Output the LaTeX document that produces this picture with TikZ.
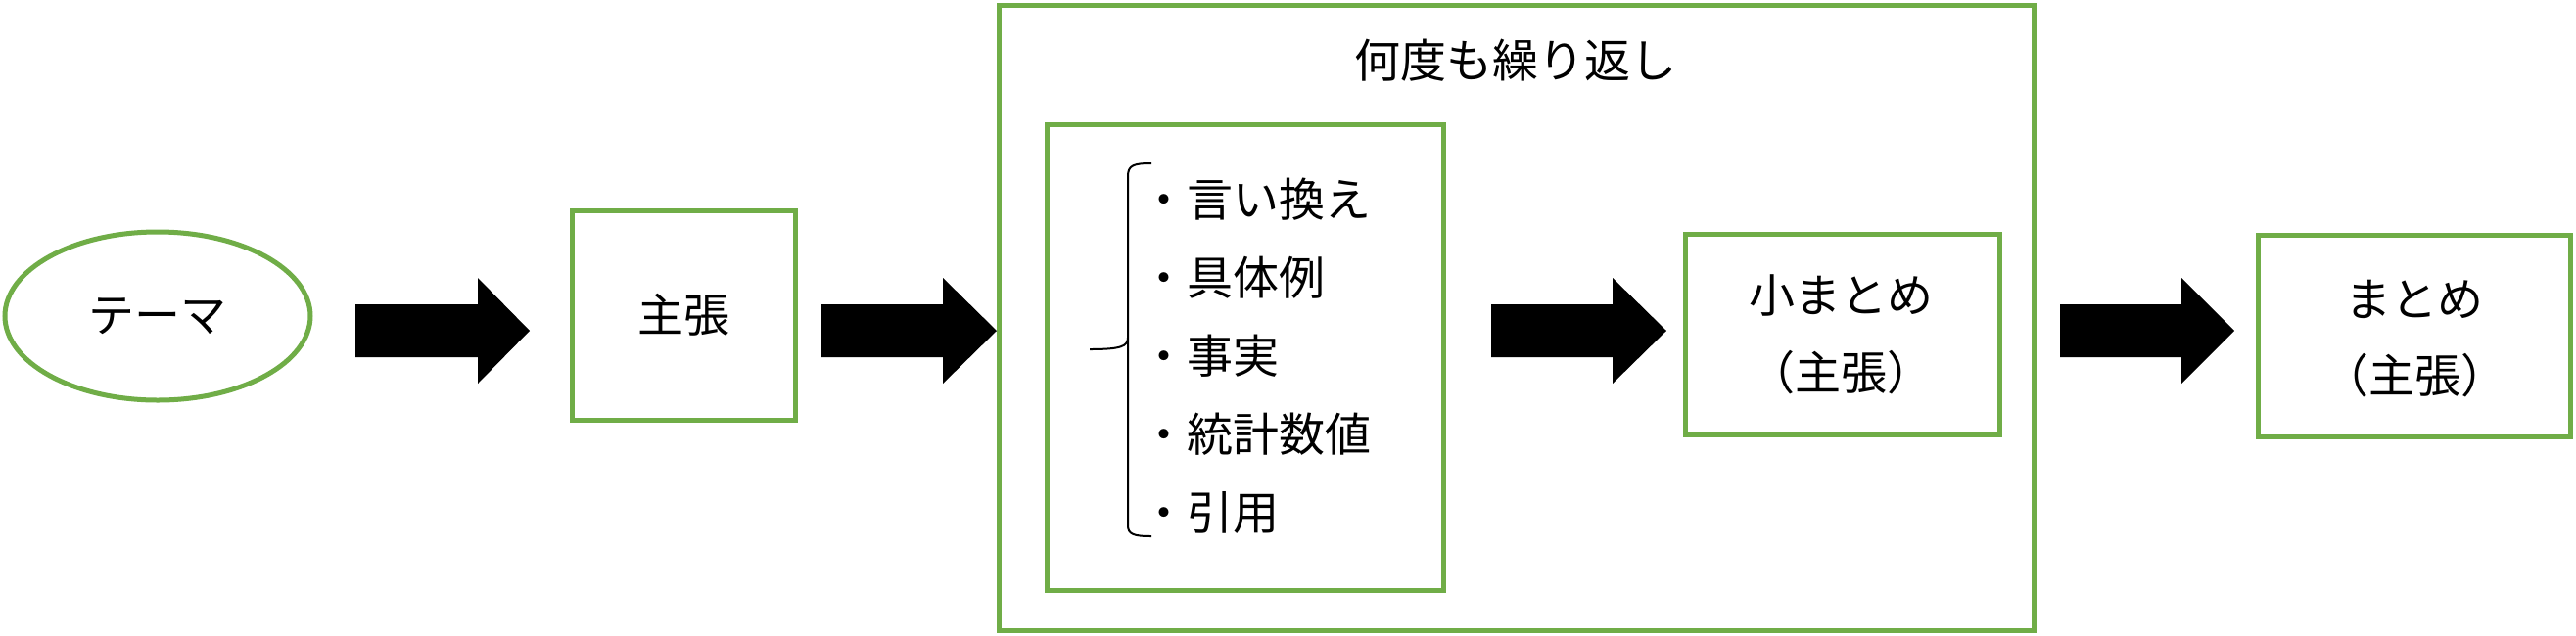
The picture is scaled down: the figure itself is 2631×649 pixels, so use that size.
\documentclass[tikz,border=0pt]{standalone}
\usepackage{fontspec}
\setmainfont{Noto Sans CJK JP}
\usetikzlibrary{shapes.geometric}
\definecolor{boxgreen}{HTML}{70AD47}
\begin{document}
\begin{tikzpicture}[x=1pt,y=-1pt,
  every node/.style={font=\fontsize{47}{55}\selectfont, inner sep=0pt},
  gbox/.style={draw=boxgreen, line width=5pt, rectangle, fill=none},
  gell/.style={draw=boxgreen, line width=5pt, ellipse},
  item/.style={anchor=west},
  blk/.style={fill=black, draw=none}]
\useasboundingbox (0,0) rectangle (2631,649);
\fill[white] (0,0) rectangle (2631,649);
% shapes
\node[gell, minimum width=312pt, minimum height=172pt] (theme) at (161,323) {テーマ};
\node[gbox, minimum width=228pt, minimum height=214pt] (claim) at (698,322) {主張};
\node[gbox, minimum width=1057pt, minimum height=639pt] (big) at (1548.5,324.5) {};
\node (title) at (1548,62) {何度も繰り返し};
\node[gbox, minimum width=405pt, minimum height=476pt] (inner) at (1271.5,365) {};
\node[gbox, minimum width=321pt, minimum height=205pt] (small) at (1881.5,341.5) {};
\node (smallA) at (1880,302) {小まとめ};
\node (smallB) at (1880,381) {（主張）};
\node[gbox, minimum width=319pt, minimum height=206pt] (final) at (2465.5,343) {};
\node (finalA) at (2466,306) {まとめ};
\node (finalB) at (2466,384) {（主張）};
% items
\node[item] (i1) at (1165,204) {・言い換え};
\node[item] (i2) at (1165,284) {・具体例};
\node[item] (i3) at (1165,364) {・事実};
\node[item] (i4) at (1165,444) {・統計数値};
\node[item] (i5) at (1165,524) {・引用};
% brace
\draw[line width=2pt] (1176,167) .. controls (1158,167) and (1152,169) .. (1152,180)
  -- (1152,345) .. controls (1152,354) and (1145,357) .. (1113,357)
  (1152,345) .. controls (1152,360) and (1152,357) .. (1152,369)
  -- (1152,537) .. controls (1152,546) and (1158,548) .. (1176,548);
% block arrows
\newcommand{\blockarr}[4]{% x1, xhead, xtip, ymid
  \fill[blk] (#1,#4-27) -- (#2,#4-27) -- (#2,#4-54) -- (#3,#4) -- (#2,#4+54) -- (#2,#4+27) -- (#1,#4+27) -- cycle;}
\blockarr{363}{488}{541}{338}
\blockarr{839}{963}{1018}{338}
\blockarr{1523}{1647}{1702}{338}
\blockarr{2104}{2228}{2282}{338}
\end{tikzpicture}
\end{document}
